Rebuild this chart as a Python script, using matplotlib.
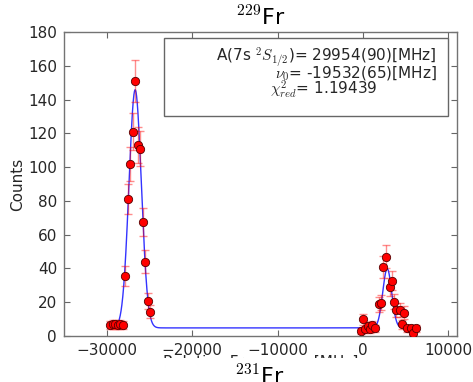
import numpy as np
import matplotlib.pyplot as plt
from matplotlib.patches import Rectangle

plt.rcParams['mathtext.fontset'] = 'cm'

# measured spectrum, left hyperfine peak
freq_left = [-29650, -29300, -28990, -28720, -28450, -28140, -27900, -27520,
             -27290, -26980, -26670, -26360, -26090, -25810, -25500, -25120,
             -24920]
counts_left = [6.5, 7, 7, 6.5, 7, 6.5, 35.7, 81, 101.8, 121, 151, 113, 111,
               67.7, 44, 20.7, 14.4]

# measured spectrum, right hyperfine peak
freq_right = [-230, 0, 270, 540, 780, 1050, 1430, 1820, 2090, 2360, 2640,
              3100, 3340, 3640, 3910, 4340, 4535, 4800, 5200, 5580, 5850, 6160]
counts_right = [3.1, 9.9, 4, 5.9, 4, 6.5, 4.5, 18.8, 19.7, 41, 47, 29, 32.7,
                20.3, 15.4, 15.4, 6.9, 13.8, 4.5, 4.5, 1.6, 4.5]

# fit result
fit_centres = [-26670, 2830]
fit_heights = [141, 35]
fit_widths = [720, 520]
fit_background = 4.8
fit_range = [-29700, 6200]

freq = np.array(freq_left + freq_right, dtype=float)
counts = np.array(counts_left + counts_right)
errors = np.sqrt(counts)

fit_x = np.linspace(fit_range[0], fit_range[1], 3000)
fit_y = np.full_like(fit_x, fit_background)
for c, h, w in zip(fit_centres, fit_heights, fit_widths):
    fit_y += h * np.exp(-(fit_x - c) ** 2 / (2 * w ** 2))

fig = plt.figure(figsize=(4.73, 3.82), dpi=100)
ax = fig.add_axes([0.1353, 0.1204, 0.8309, 0.7958])

ax.plot(fit_x, fit_y, color='blue', lw=1.0, alpha=0.8, zorder=2)
ax.errorbar(freq, counts, yerr=errors, fmt='none', ecolor='red', elinewidth=1,
            capsize=3, alpha=0.45, zorder=3)
ax.plot(freq, counts, 'o', color='red', markeredgecolor='#550000',
        markeredgewidth=0.6, markersize=6, zorder=4)

ax.set_xlim(-35000, 11000)
ax.set_ylim(0, 180)
ax.set_xticks([-30000, -20000, -10000, 0, 10000])
ax.set_yticks(range(0, 181, 20))
ax.tick_params(direction='in', top=True, right=True, length=4, width=0.8,
               color='0.4', labelsize=11, labelcolor='0.15', pad=5)
for s in ax.spines.values():
    s.set_color('0.45')
    s.set_linewidth(1.0)

ax.set_ylabel('Counts', fontsize=11, color='0.15', labelpad=2)
ax.set_xlabel('Relative Frequency [MHz]', fontsize=11, color='0.15')
ax.xaxis.set_label_coords(0.5, -0.0625)
ax.set_title(r'$^{229}$Fr', fontsize=16, pad=5)

# fit result box
ax.add_patch(Rectangle((0.2545, 0.724), 0.7225, 0.256, transform=ax.transAxes,
                       facecolor='white', edgecolor='0.4', lw=1, zorder=5))
ax.text(0.949, 0.9056, 'A(7s $^2S_{1/2}$)= 29954(90)[MHz]',
        transform=ax.transAxes, ha='right', va='baseline', fontsize=11,
        color='0.15', zorder=6)
ax.text(0.949, 0.8487, r'$\nu_0$= -19532(65)[MHz]',
        transform=ax.transAxes, ha='right', va='baseline', fontsize=11,
        color='0.15', zorder=6)
ax.text(0.524, 0.7928, r'$\chi^2_{red}$= 1.19439',
        transform=ax.transAxes, ha='left', va='baseline', fontsize=11,
        color='0.15', zorder=6)

# the next panel hides the lower part of the x label
fig.add_artist(Rectangle((0, 0), 1, 0.0628, transform=fig.transFigure,
                         facecolor='white', edgecolor='none', zorder=10))
fig.text(0.55, -0.006, r'$^{231}$Fr', fontsize=16, ha='center',
         va='baseline', zorder=11)

fig.savefig('out.png', dpi=100)
